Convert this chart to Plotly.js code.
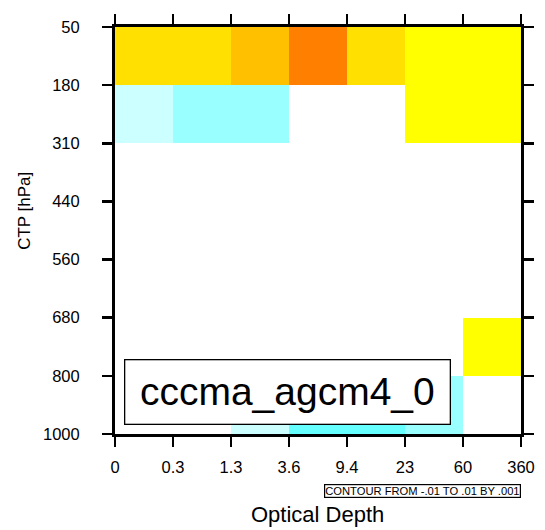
<!DOCTYPE html>
<html>
<head>
<meta charset="utf-8">
<script src="https://cdn.plot.ly/plotly-3.0.1.min.js"></script>
<style>html,body{margin:0;padding:0;background:#fff;}#chart{width:545px;height:530px;}</style>
</head>
<body>
<div id="chart"></div>
<script>
// Bin edges (tick labels)
const tauLabels = ["0", "0.3", "1.3", "3.6", "9.4", "23", "60", "360"];
const ctpLabels = ["50", "180", "310", "440", "560", "680", "800", "1000"];
// Values per CTP row (top 50 hPa to bottom 1000 hPa), per optical depth bin
const row50_180   = [0.0025, 0.0025, 0.0035, 0.0055, 0.0025, 0.0015, 0.0015];
const row180_310  = [-0.0015, -0.0025, -0.0025, 0, 0, 0.0015, 0.0015];
const row310_440  = [0, 0, 0, 0, 0, 0, 0];
const row440_560  = [0, 0, 0, 0, 0, 0, 0];
const row560_680  = [0, 0, 0, 0, 0, 0, 0];
const row680_800  = [0, 0, 0, 0, 0, 0, 0.0015];
const row800_1000 = [0, 0, -0.0015, -0.0035, -0.0035, -0.0025, 0];
const modelName = "cccma_agcm4_0";
const contourInfo = "CONTOUR FROM -.01 TO .01 BY .001";
const xTitle = "Optical Depth";
const yTitle = "CTP [hPa]";

const z = [row50_180, row180_310, row310_440, row440_560, row560_680, row680_800, row800_1000];
const xc = tauLabels.slice(0, -1).map((_, i) => i + 0.5);
const yc = ctpLabels.slice(0, -1).map((_, i) => i + 0.5);

// discrete colour bands, 0.001 wide, from -0.004 to 0.006
const bandColors = ["#66FFFF", "#99FFFF", "#CCFFFF", "#FFFFFF", "#FFFFFF",
                    "#FFFF00", "#FFE000", "#FFC000", "#FFA000", "#FF8000"];
const cs = [];
bandColors.forEach((c, i) => {
  cs.push([i / bandColors.length, c]);
  cs.push([(i + 1) / bandColors.length, c]);
});

const font = "Liberation Sans, Arial, Helvetica, sans-serif";
const axisCommon = {
  showgrid: false, zeroline: false, showline: true, linecolor: "#000", linewidth: 3,
  mirror: "ticks", ticks: "outside", ticklen: 10, tickwidth: 2.5, tickcolor: "#000",
  tickfont: {family: font, size: 16.5, color: "#000"}, tickmode: "array"
};

Plotly.newPlot("chart", [{
  type: "heatmap", x: xc, y: yc, z: z,
  zmin: -0.004, zmax: 0.006, colorscale: cs, showscale: false, hoverinfo: "skip"
}], {
  width: 545, height: 530,
  margin: {l: 115, r: 24, t: 27, b: 96},
  paper_bgcolor: "#fff", plot_bgcolor: "#fff",
  xaxis: Object.assign({}, axisCommon, {
    range: [0, 7], tickvals: tauLabels.map((_, i) => i), ticktext: tauLabels, ticklabelstandoff: 6
  }),
  yaxis: Object.assign({}, axisCommon, {
    range: [7, 0], tickvals: ctpLabels.map((_, i) => i), ticktext: ctpLabels, ticklabelstandoff: 19
  }),
  annotations: [
    {text: modelName, xref: "paper", yref: "paper", x: 0.022, y: 0.022, xanchor: "left", yanchor: "bottom",
     showarrow: false, font: {family: font, size: 39, color: "#000"}, width: 320, height: 59,
     bgcolor: "#fff", bordercolor: "#000", borderwidth: 1.3, borderpad: 2},
    {text: contourInfo, xref: "paper", yref: "paper", x: 1.0, y: -0.123, xanchor: "right", yanchor: "top",
     showarrow: false, font: {family: font, size: 11.2, color: "#000"},
     bgcolor: "#fff", bordercolor: "#000", borderwidth: 1.2, borderpad: 0},
    {text: xTitle, xref: "paper", yref: "paper", x: 0.498, y: -0.198, xanchor: "center", yanchor: "middle",
     showarrow: false, font: {family: font, size: 22, color: "#000"}},
    {text: yTitle, xref: "paper", yref: "paper", x: -0.222, y: 0.548, xanchor: "center", yanchor: "middle",
     textangle: -90, showarrow: false, font: {family: font, size: 17, color: "#000"}}
  ]
}, {staticPlot: true});
</script>
</body>
</html>
